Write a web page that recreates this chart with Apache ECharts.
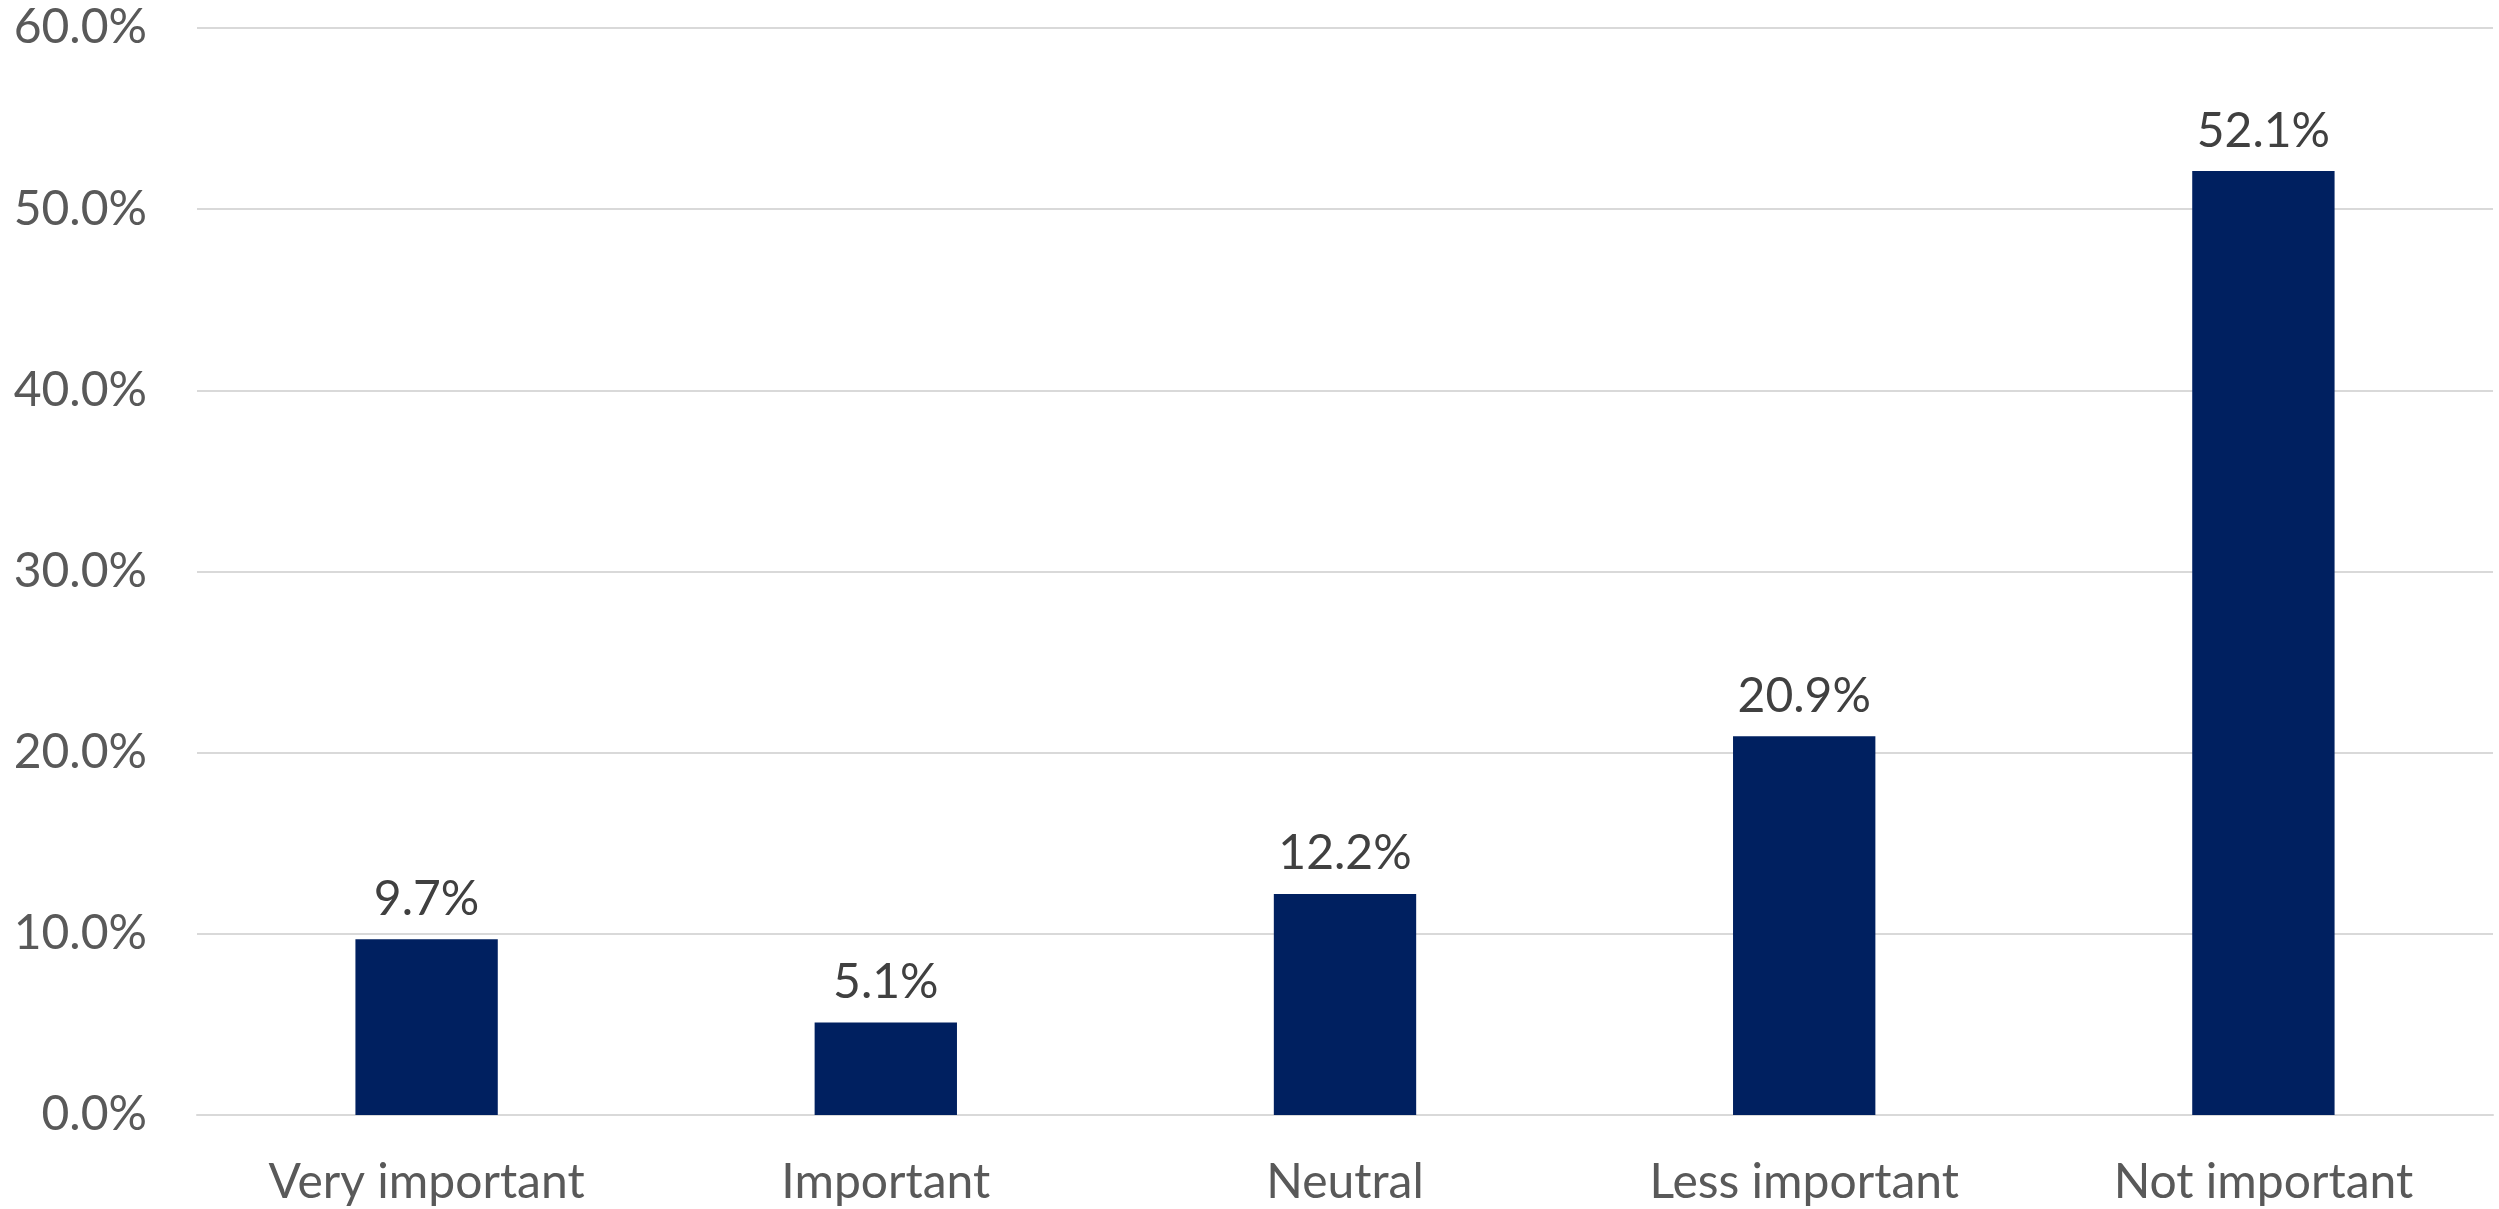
<!DOCTYPE html>
<html><head><meta charset="utf-8">
<script src="https://cdn.jsdelivr.net/npm/echarts@6/dist/echarts.min.js"></script>
<style>html,body{margin:0;padding:0;background:#fff}#c{width:2499px;height:1209px}</style>
</head><body><div id="c"></div>
<script>
const categories = ["Very important", "Important", "Neutral", "Less important", "Not important"];
const values = [9.7, 5.1, 12.2, 20.9, 52.1];
const yTicks = [0, 10, 20, 30, 40, 50, 60];
const FONT = "Lato, 'Open Sans', sans-serif";
const chart = echarts.init(document.getElementById('c'), null, {renderer: 'canvas'});
chart.setOption({
  animation: false,
  grid: {left: 197, right: 6, top: 28, bottom: 94, containLabel: false},
  xAxis: {
    type: 'category', data: categories,
    axisLine: {show: true, lineStyle: {color: '#d9d9d9', width: 2}},
    axisTick: {show: false},
    axisLabel: {color: '#595959', fontSize: 48, fontFamily: FONT, margin: 44}
  },
  yAxis: {
    type: 'value', min: yTicks[0], max: yTicks[yTicks.length - 1], interval: 10,
    axisLine: {show: false}, axisTick: {show: false},
    splitLine: {lineStyle: {color: '#d9d9d9', width: 2}},
    axisLabel: {color: '#595959', fontSize: 48, fontFamily: FONT, margin: 50,
      formatter: v => v.toFixed(1) + '%'}
  },
  series: [{
    type: 'bar', data: values, barWidth: '31%',
    itemStyle: {color: '#002060'},
    label: {show: true, position: 'top', distance: 16, color: '#404040', fontSize: 48, fontFamily: FONT,
      formatter: p => p.value.toFixed(1) + '%'}
  }]
});
</script></body></html>
